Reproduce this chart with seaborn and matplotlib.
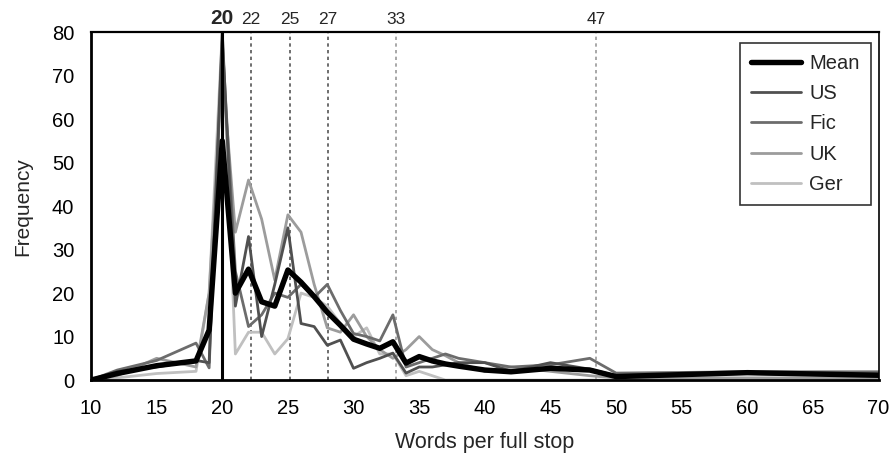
import matplotlib
matplotlib.use("Agg")
import matplotlib.pyplot as plt
import numpy as np
import pandas as pd
import seaborn as sns

# Sentence length (words per full stop) and frequencies per corpus
words = [10, 12, 15, 18, 19, 20, 21, 22, 23, 24, 25, 26, 27, 28, 29, 30,
         31, 32, 33, 34, 35, 36, 37, 38, 40, 42, 45, 48, 50, 60, 70]

mean = [0, 1.5, 3.3, 4.4, 11.5, 55, 20, 25.5, 18, 17, 25.3, 22.5, 19.2, 15.6,
        12.6, 9.4, 8.3, 7.3, 8.8, 3.9, 5.4, 4.4, 3.7, 3.2, 2.3, 1.9, 2.7, 2.3,
        0.8, 1.7, 1.1]
us = [0, 2, 3, 4.5, 4, 80, 17, 33, 10, 22, 35, 13, 12.3, 8, 9.2, 2.7,
      4, 5, 6.2, 1.6, 3, 3, 3.5, 4, 4, 2, 4, 2.5, 1, 1.5, 1]
fic = [0, 2.3, 4.5, 8.5, 2.8, 78, 25, 12.3, 15, 20, 19, 22, 19, 22, 16,
       10.7, 10, 9, 15, 3, 4, 5, 6, 5, 4, 3, 3.5, 5, 1.6, 1.9, 1.9]
uk = [0, 1, 5, 3, 20, 72, 34, 46, 37, 23, 38, 34, 22, 12, 11, 15, 10, 7,
      5, 7, 10, 7, 5.6, 4, 2, 3, 2, 1, 0.5, 0.5, 0.5]
ger = [0, 0.5, 1.5, 2, 20, 80, 6, 11, 11, 6, 9.5, 20, 19, 17, 13, 10, 12,
       6, 6, 1, 2, 1, 0, 0, 0, 0, 0, 0, 0, 0, 0]

series_names = ["Mean", "US", "Fic", "UK", "Ger"]
series_values = [mean, us, fic, uk, ger]
series_colors = ["#000000", "#505050", "#6c6c6c", "#9c9c9c", "#c0c0c0"]
series_widths = [3.9, 2.0, 2.0, 2.0, 2.0]

# Reference lines along the top with their labels
marker_pos = [22.2, 25.15, 28.05, 33.2, 48.5]
marker_labels = ["22", "25", "27", "33", "47"]
marker_colors = ["#555555", "#555555", "#555555", "#9a9a9a", "#9a9a9a"]
peak_pos = 20
peak_label = "20"

sns.set_style("white")
plt.rcParams["font.family"] = ["Liberation Sans", "DejaVu Sans"]

df = pd.DataFrame({
    "words": np.tile(words, len(series_names)),
    "freq": np.concatenate(series_values),
    "series": np.repeat(series_names, len(words)),
})

fig = plt.figure(figsize=(8.92, 4.59), dpi=100)
ax = fig.add_axes([0.102, 0.172, 0.883, 0.758])

# Draw the corpora first and the mean on top
for name, color, lw in reversed(list(zip(series_names, series_colors, series_widths))):
    sub = df[df["series"] == name]
    sns.lineplot(data=sub, x="words", y="freq", ax=ax, color=color,
                 linewidth=lw, label=name, legend=False,
                 zorder=3 if name == "Mean" else 2)

lines = {l.get_label(): l for l in ax.get_lines()}

for pos, col in zip(marker_pos, marker_colors):
    ax.axvline(pos, color=col, linestyle=(0, (2, 2)), linewidth=1.2, zorder=1)
ax.axvline(peak_pos, color="black", linewidth=2.2, zorder=4)

ax.set_xlim(10, 70)
ax.set_ylim(0, 80)
ax.set_xticks(np.arange(10, 71, 5))
ax.set_yticks(np.arange(0, 81, 10))
ax.tick_params(axis="both", direction="out", length=6, width=1.5,
               labelsize=14.5, color="black", labelcolor="black", pad=6)
ax.tick_params(axis="x", pad=8)

for side, lw in [("left", 2.0), ("bottom", 2.0), ("top", 1.6), ("right", 1.2)]:
    ax.spines[side].set_visible(True)
    ax.spines[side].set_color("black")
    ax.spines[side].set_linewidth(lw)

ax.set_xlabel("Words per full stop", fontsize=15.5, labelpad=10)
ax.set_ylabel("Frequency", fontsize=15, labelpad=14)

# Labels above the frame
trans = ax.get_xaxis_transform()
for pos, lab in zip(marker_pos, marker_labels):
    ax.text(pos, 1.015, lab, transform=trans, ha="center", va="bottom", fontsize=12.5)
ax.text(peak_pos, 1.013, peak_label, transform=trans, ha="center", va="bottom",
        fontsize=15, fontweight="bold")

leg = ax.legend([lines[n] for n in series_names], series_names,
                loc="upper right", bbox_to_anchor=(0.9898, 0.968), fontsize=14.5,
                frameon=True, fancybox=False, handlelength=2.5, handletextpad=0.4,
                labelspacing=0.55, borderpad=0.55, borderaxespad=0.0)
leg.get_frame().set_edgecolor("black")
leg.get_frame().set_linewidth(1.2)

fig.savefig("out.png", dpi=100)
